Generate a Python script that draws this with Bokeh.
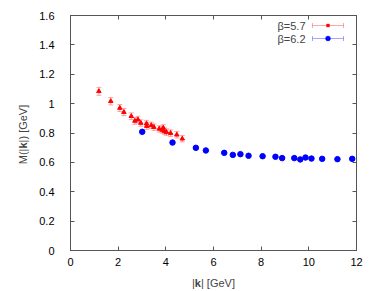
import math
from bokeh.plotting import figure
from bokeh.layouts import row, column
from bokeh.models import (ColumnDataSource, Whisker, TeeHead, Label, Arrow,
                          LinearAxis, FixedTicker, Range1d, BoxAnnotation)
from bokeh.embed import file_html
from bokeh.resources import INLINE

# beta = 5.7 data
k57 = [1.19, 1.69, 2.07, 2.24, 2.55, 2.70, 2.83, 2.95, 3.19, 3.20,
       3.39, 3.50, 3.72, 3.85, 3.89, 3.94, 4.03, 4.20, 4.46, 4.69]
m57 = [1.084, 1.016, 0.970, 0.942, 0.914, 0.882, 0.891, 0.868, 0.864, 0.847,
       0.852, 0.840, 0.828, 0.821, 0.835, 0.813, 0.806, 0.799, 0.788, 0.761]
e57 = [0.027, 0.025, 0.024, 0.024, 0.023, 0.023, 0.023, 0.022, 0.022, 0.022,
       0.022, 0.022, 0.022, 0.022, 0.022, 0.022, 0.022, 0.022, 0.022, 0.022]

# beta = 6.2 data
k62 = [3.01, 4.28, 5.26, 5.68, 6.45, 6.81, 7.13, 7.47, 8.06, 8.60,
       8.88, 9.39, 9.64, 9.86, 10.11, 10.56, 11.20, 11.82]
m62 = [0.808, 0.735, 0.699, 0.681, 0.665, 0.651, 0.656, 0.645, 0.642, 0.638,
       0.629, 0.629, 0.620, 0.633, 0.626, 0.624, 0.622, 0.624]
e62 = [0.006, 0.006, 0.005, 0.005, 0.005, 0.005, 0.005, 0.005, 0.005, 0.005,
       0.005, 0.005, 0.005, 0.005, 0.005, 0.005, 0.005, 0.005]

x_ticks = [0, 2, 4, 6, 8, 10, 12]
y_ticks = [0, 0.2, 0.4, 0.6, 0.8, 1, 1.2, 1.4, 1.6]
y_tick_labels = ["0", "0.2", "0.4", "0.6", "0.8", "1", "1.2", "1.4", "1.6"]
labels = ["β=5.7", "β=6.2"]

FONT = "Liberation Sans"
FS = "11px"
BORDER = "#555555"

YLAB_W = 30
p = figure(frame_width=286, frame_height=235,
           x_range=Range1d(0, 12), y_range=Range1d(0, 1.6),
           output_backend="svg", toolbar_location=None,
           min_border_left=70 - YLAB_W, min_border_right=17,
           min_border_top=15, min_border_bottom=20)
p.xgrid.visible = False
p.ygrid.visible = False
p.outline_line_color = BORDER
p.outline_line_width = 1
p.background_fill_color = "white"
p.border_fill_color = "white"

def style_axis(ax, ticks, show_labels, standoff):
    ax.ticker = FixedTicker(ticks=ticks)
    ax.major_tick_in = 4
    ax.major_tick_out = 0
    ax.minor_tick_line_color = None
    ax.axis_line_color = BORDER
    ax.major_tick_line_color = BORDER
    ax.major_label_text_font = FONT
    ax.major_label_text_color = "black"
    ax.major_label_text_font_size = FS
    if show_labels:
        ax.major_label_standoff = standoff
    else:
        ax.major_label_standoff = 0
        ax.major_label_overrides = {t: "" for t in ticks}

style_axis(p.xaxis[0], x_ticks, True, 7)
style_axis(p.yaxis[0], y_ticks, True, 16)
p.yaxis[0].major_label_overrides = {t: s for t, s in zip(y_ticks, y_tick_labels)}

ax_r = LinearAxis()
style_axis(ax_r, y_ticks, False, 0)
p.add_layout(ax_r, "right")
ax_t = LinearAxis()
style_axis(ax_t, x_ticks, False, 0)
p.add_layout(ax_t, "above")

src57 = ColumnDataSource(dict(x=k57, y=m57,
                              lo=[m - e for m, e in zip(m57, e57)],
                              hi=[m + e for m, e in zip(m57, e57)]))
src62 = ColumnDataSource(dict(x=k62, y=m62,
                              lo=[m - e for m, e in zip(m62, e62)],
                              hi=[m + e for m, e in zip(m62, e62)]))

for src, col in ((src57, "red"), (src62, "blue")):
    w = Whisker(base="x", lower="lo", upper="hi", source=src,
                line_color=col, line_alpha=0.35, line_width=1,
                upper_head=TeeHead(size=5, line_color=col, line_alpha=0.35),
                lower_head=TeeHead(size=5, line_color=col, line_alpha=0.35))
    p.add_layout(w)

p.scatter("x", "y", source=src57, marker="triangle", size=4.5,
          fill_color="red", line_color="red")
p.scatter("x", "y", source=src62, marker="circle", size=5.5,
          fill_color="blue", line_color="blue")

# legend (gnuplot style: text right-aligned, sample to the right)
for i, (lab, col) in enumerate(zip(labels, ["red", "blue"])):
    yy = 225 - 13 * i
    p.add_layout(Label(x=235, y=yy, x_units="screen", y_units="screen",
                       text=lab, text_align="right", text_baseline="middle",
                       text_font=FONT, text_font_size=FS))
    p.add_layout(Arrow(x_start=242, y_start=yy, x_end=273, y_end=yy,
                       start_units="screen", end_units="screen",
                       line_color=col, line_alpha=0.35, line_width=1,
                       start=TeeHead(size=5, line_color=col, line_alpha=0.35),
                       end=TeeHead(size=5, line_color=col, line_alpha=0.35)))
    r = 1.5 if i == 0 else 2.5
    p.add_layout(BoxAnnotation(left=257.5 - r, right=257.5 + r,
                               bottom=yy - r, top=yy + r,
                               left_units="screen", right_units="screen",
                               top_units="screen", bottom_units="screen",
                               fill_color=col, fill_alpha=1, line_color=col,
                               border_radius=(0 if i == 0 else 3)))

def text_strip(w, h):
    f = figure(width=w, height=h, x_range=Range1d(0, 1), y_range=Range1d(0, 1),
               x_axis_type=None, y_axis_type=None,
               output_backend="svg", toolbar_location=None,
               min_border_left=0, min_border_right=0,
               min_border_top=0, min_border_bottom=0)
    f.xgrid.visible = False
    f.ygrid.visible = False
    f.outline_line_color = None
    f.background_fill_color = "white"
    f.border_fill_color = "white"
    return f

# x axis label strip: |k| [GeV] with bold k (frame aligned with the main frame)
xfig = text_strip(344, 21)
xs = 143.0 - 21.5
for txt, wdt, bold in (("|", 2.86, False), ("k", 6.1, True), ("| [GeV]", 34.0, False)):
    xfig.add_layout(Label(x=xs, y=9, x_units="screen", y_units="screen",
                          text=txt, text_align="left", text_baseline="middle",
                          text_font=FONT, text_font_size=FS,
                          text_font_style=("bold" if bold else "normal")))
    xs += wdt

# y axis label strip: M(|k|) [GeV] with bold k, rotated
yfig = text_strip(YLAB_W, 291)
ys = 157.0 - 29.75
for txt, wdt, bold in (("M(|", 15.7, False), ("k", 6.1, True), ("|) [GeV]", 37.7, False)):
    yfig.add_layout(Label(x=22.7, y=ys, x_units="screen", y_units="screen",
                          text=txt, text_align="left", text_baseline="middle",
                          angle=math.pi / 2,
                          text_font=FONT, text_font_size=FS,
                          text_font_style=("bold" if bold else "normal")))
    ys += wdt

layout = row(yfig, column(p, xfig, spacing=0), spacing=0)
open("out.html", "w").write(file_html(layout, INLINE))
